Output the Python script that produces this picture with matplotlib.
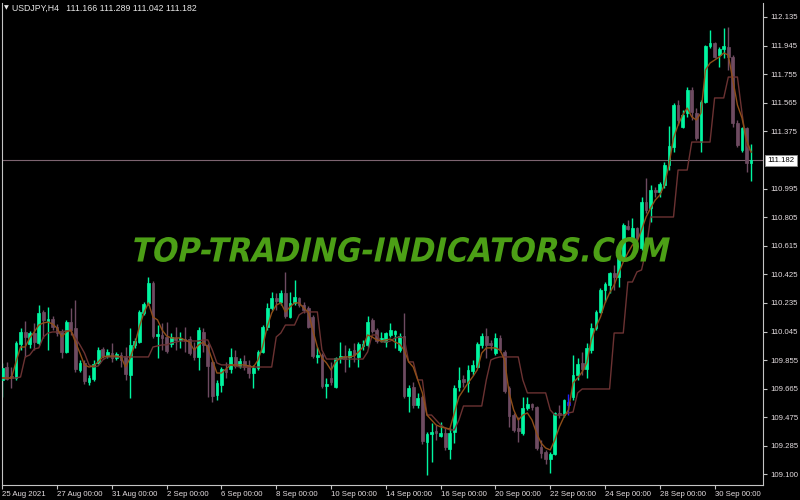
import matplotlib
matplotlib.use("Agg")
import matplotlib.pyplot as plt
import numpy as np
from matplotlib.textpath import TextPath
from matplotlib.patches import PathPatch
from matplotlib.font_manager import FontProperties
import matplotlib.transforms as mtransforms

plt.rcParams['font.family'] = ['Liberation Sans', 'DejaVu Sans']

symbol = "USDJPY,H4"
watermark = "TOP-TRADING-INDICATORS.COM"

opens = [
    109.723, 109.809, 109.750, 109.736, 109.962, 110.042, 109.962, 110.035, 109.969, 110.175,
    110.115, 110.128, 110.075, 110.049, 109.909, 110.108, 110.068, 109.789, 109.836, 109.710,
    109.730, 109.836, 109.929, 109.882, 109.902, 109.869, 109.889, 109.882, 109.756, 109.956,
    109.975, 110.168, 110.235, 110.368, 110.015, 110.022, 110.009, 109.962, 110.002, 109.989,
    109.995, 109.995, 109.936, 109.876, 110.042, 109.956, 109.843, 109.623, 109.690, 109.796,
    109.796, 109.876, 109.816, 109.849, 109.823, 109.769, 109.803, 109.909, 110.075, 110.201,
    110.268, 110.241, 110.301, 110.141, 110.235, 110.268, 110.221, 110.201, 110.141, 109.876,
    109.889, 109.683, 109.736, 109.676, 109.869, 109.882, 109.876, 109.922, 109.876, 109.949,
    109.956, 110.122, 110.055, 109.982, 109.975, 110.022, 110.029, 109.922, 110.015, 109.617,
    109.676, 109.557, 109.610, 109.311, 109.364, 109.384, 109.351, 109.371, 109.264, 109.377,
    109.676, 109.730, 109.703, 109.783, 109.809, 109.956, 110.015, 109.969, 109.902, 110.002,
    109.909, 109.670, 109.490, 109.404, 109.371, 109.537, 109.563, 109.544, 109.278, 109.244,
    109.198, 109.231, 109.504, 109.490, 109.557, 109.610, 109.756, 109.836, 109.796, 109.922,
    110.068, 110.175, 110.321, 110.354, 110.434, 110.407, 110.540, 110.746, 110.667, 110.733,
    110.600, 110.906, 110.866, 110.985, 110.972, 111.019, 111.152, 111.271, 111.550, 111.404,
    111.497, 111.650, 111.497, 111.304, 111.570, 111.942, 111.962, 111.882, 111.922, 111.936,
    111.869, 111.431, 111.251, 111.397, 111.166]

highs = [
    109.836, 109.843, 109.809, 109.982, 110.068, 110.115, 110.049, 110.102, 110.221, 110.188,
    110.208, 110.148, 110.095, 110.062, 110.122, 110.201, 110.254, 109.856, 109.856, 109.756,
    109.856, 109.942, 109.942, 109.929, 109.969, 109.909, 109.909, 109.942, 110.068, 110.002,
    110.188, 110.241, 110.407, 110.381, 110.088, 110.102, 110.108, 110.035, 110.075, 110.042,
    110.075, 110.015, 109.975, 110.075, 110.068, 109.969, 109.856, 109.723, 109.809, 109.843,
    109.936, 109.922, 109.869, 109.889, 109.856, 109.823, 109.922, 110.088, 110.235, 110.308,
    110.301, 110.321, 110.441, 110.308, 110.387, 110.274, 110.241, 110.215, 110.155, 109.942,
    109.902, 109.736, 109.843, 109.876, 109.975, 109.956, 109.936, 109.969, 109.975, 109.989,
    110.148, 110.135, 110.068, 110.042, 110.042, 110.102, 110.055, 110.035, 110.168, 109.690,
    109.710, 109.637, 109.623, 109.377, 109.437, 109.424, 109.444, 109.404, 109.404, 109.690,
    109.809, 109.756, 109.823, 109.856, 109.975, 110.035, 110.068, 109.989, 110.035, 110.022,
    109.922, 109.683, 109.504, 109.477, 109.610, 109.610, 109.570, 109.550, 109.324, 109.258,
    109.244, 109.510, 109.557, 109.597, 109.630, 109.889, 109.869, 109.909, 109.969, 110.102,
    110.188, 110.334, 110.374, 110.441, 110.487, 110.573, 110.766, 110.786, 110.799, 110.740,
    110.939, 111.065, 111.019, 111.005, 111.039, 111.172, 111.411, 111.564, 111.584, 111.517,
    111.670, 111.670, 111.530, 111.584, 111.949, 112.049, 111.969, 111.936, 112.062, 112.069,
    111.882, 111.451, 111.404, 111.404, 111.289]

lows = [
    109.610, 109.723, 109.670, 109.723, 109.922, 109.876, 109.936, 109.922, 109.956, 110.002,
    109.922, 110.055, 110.015, 109.869, 109.902, 110.022, 109.776, 109.776, 109.696, 109.690,
    109.716, 109.829, 109.869, 109.869, 109.843, 109.856, 109.809, 109.723, 109.603, 109.936,
    109.969, 110.155, 110.221, 110.002, 109.869, 109.922, 109.902, 109.942, 109.922, 109.936,
    109.909, 109.889, 109.856, 109.789, 109.909, 109.610, 109.577, 109.590, 109.643, 109.736,
    109.769, 109.803, 109.803, 109.789, 109.736, 109.670, 109.789, 109.902, 110.055, 110.188,
    110.188, 110.221, 110.135, 110.135, 110.221, 110.208, 110.168, 110.068, 109.869, 109.836,
    109.670, 109.603, 109.690, 109.670, 109.836, 109.776, 109.809, 109.843, 109.809, 109.922,
    109.942, 110.035, 109.969, 109.975, 109.942, 110.009, 109.936, 109.909, 109.603, 109.510,
    109.537, 109.537, 109.298, 109.092, 109.178, 109.324, 109.344, 109.258, 109.198, 109.304,
    109.650, 109.676, 109.643, 109.756, 109.803, 109.936, 109.869, 109.922, 109.889, 109.909,
    109.637, 109.411, 109.377, 109.311, 109.357, 109.524, 109.524, 109.258, 109.205, 109.165,
    109.105, 109.225, 109.470, 109.477, 109.490, 109.590, 109.723, 109.756, 109.736, 109.902,
    110.055, 110.168, 110.241, 110.301, 110.321, 110.341, 110.534, 110.720, 110.653, 110.653,
    110.587, 110.833, 110.773, 110.939, 110.939, 110.999, 111.118, 111.238, 111.417, 111.397,
    111.471, 111.451, 111.318, 111.238, 111.564, 111.929, 111.863, 111.803, 111.863, 111.783,
    111.404, 111.271, 111.238, 111.105, 111.042]

closes = [
    109.803, 109.730, 109.736, 109.969, 110.042, 110.009, 110.035, 109.975, 110.168, 110.122,
    110.128, 110.075, 110.035, 109.909, 110.108, 110.055, 109.796, 109.836, 109.716, 109.736,
    109.829, 109.922, 109.882, 109.909, 109.869, 109.896, 109.856, 109.763, 109.956, 109.982,
    110.175, 110.228, 110.368, 110.015, 110.029, 110.002, 109.916, 110.009, 109.989, 110.002,
    109.982, 109.902, 109.876, 110.055, 109.956, 109.816, 109.617, 109.703, 109.796, 109.776,
    109.876, 109.816, 109.849, 109.809, 109.769, 109.803, 109.909, 110.075, 110.201, 110.268,
    110.248, 110.301, 110.148, 110.235, 110.274, 110.221, 110.188, 110.075, 109.882, 109.889,
    109.683, 109.696, 109.710, 109.869, 109.882, 109.862, 109.916, 109.889, 109.962, 109.962,
    110.108, 110.049, 109.982, 110.002, 110.035, 110.055, 110.049, 110.015, 109.617, 109.670,
    109.557, 109.603, 109.318, 109.364, 109.377, 109.371, 109.371, 109.278, 109.371, 109.670,
    109.723, 109.710, 109.789, 109.823, 109.962, 110.015, 109.956, 109.956, 110.002, 109.922,
    109.650, 109.484, 109.391, 109.384, 109.537, 109.563, 109.544, 109.271, 109.238, 109.198,
    109.231, 109.504, 109.490, 109.590, 109.577, 109.756, 109.829, 109.796, 109.936, 110.068,
    110.175, 110.321, 110.361, 110.434, 110.407, 110.540, 110.753, 110.726, 110.733, 110.667,
    110.906, 110.853, 110.985, 110.972, 111.025, 111.152, 111.278, 111.550, 111.451, 111.484,
    111.650, 111.504, 111.331, 111.570, 111.942, 111.962, 111.869, 111.922, 111.942, 111.869,
    111.431, 111.284, 111.397, 111.165, 111.182]

fast_line = [
    109.736, 109.736, 109.736, 109.843, 109.942, 109.942, 110.002, 110.042, 110.088, 110.102,
    110.108, 110.095, 110.068, 110.009, 110.042, 110.055, 109.975, 109.902, 109.823, 109.809,
    109.816, 109.843, 109.876, 109.882, 109.882, 109.882, 109.876, 109.809, 109.869, 109.956,
    110.075, 110.168, 110.235, 110.141, 110.122, 110.055, 110.015, 110.002, 110.002, 110.002,
    109.989, 109.975, 109.922, 109.956, 109.975, 109.942, 109.856, 109.769, 109.769, 109.796,
    109.823, 109.823, 109.823, 109.823, 109.816, 109.809, 109.856, 109.942, 110.075, 110.168,
    110.221, 110.235, 110.175, 110.208, 110.235, 110.235, 110.201, 110.175, 110.055, 109.942,
    109.869, 109.836, 109.789, 109.843, 109.869, 109.876, 109.876, 109.882, 109.909, 109.942,
    110.022, 110.009, 109.989, 109.982, 109.989, 109.995, 109.975, 109.962, 109.922, 109.843,
    109.809, 109.723, 109.637, 109.490, 109.457, 109.424, 109.411, 109.404, 109.397, 109.504,
    109.610, 109.656, 109.703, 109.743, 109.789, 109.902, 109.936, 109.936, 109.936, 109.922,
    109.856, 109.637, 109.524, 109.457, 109.490, 109.504, 109.457, 109.371, 109.304, 109.271,
    109.258, 109.324, 109.411, 109.477, 109.524, 109.703, 109.736, 109.776, 109.836, 109.989,
    110.075, 110.141, 110.235, 110.301, 110.354, 110.434, 110.507, 110.567, 110.620, 110.640,
    110.720, 110.806, 110.866, 110.919, 110.952, 111.019, 111.152, 111.331, 111.417, 111.484,
    111.530, 111.471, 111.451, 111.497, 111.783, 111.829, 111.849, 111.869, 111.896, 111.882,
    111.716, 111.550, 111.464, 111.318, 111.238]

slow_line = [
    109.736, 109.736, 109.736, 109.736, 109.743, 109.876, 109.889, 109.929, 109.936, 110.009,
    110.035, 110.042, 110.042, 110.042, 110.049, 110.049, 110.002, 109.956, 109.902, 109.823,
    109.809, 109.816, 109.856, 109.876, 109.876, 109.876, 109.876, 109.876, 109.876, 109.876,
    109.876, 109.876, 109.876, 109.942, 109.949, 109.956, 109.956, 109.969, 109.975, 109.982,
    109.982, 109.982, 109.982, 109.982, 109.989, 109.989, 109.922, 109.836, 109.823, 109.823,
    109.823, 109.816, 109.809, 109.809, 109.809, 109.809, 109.809, 109.809, 109.809, 109.809,
    110.009, 110.035, 110.088, 110.088, 110.088, 110.155, 110.175, 110.175, 110.175, 110.175,
    109.922, 109.862, 109.862, 109.862, 109.862, 109.862, 109.862, 109.862, 109.862, 109.862,
    109.909, 110.022, 110.022, 109.975, 109.975, 109.982, 110.002, 110.009, 110.002, 109.843,
    109.843, 109.723, 109.723, 109.490, 109.490, 109.457, 109.424, 109.404, 109.391, 109.391,
    109.457, 109.550, 109.550, 109.550, 109.550, 109.550, 109.723, 109.856, 109.869, 109.876,
    109.876, 109.876, 109.876, 109.876, 109.723, 109.637, 109.637, 109.637, 109.637, 109.637,
    109.524, 109.490, 109.490, 109.490, 109.504, 109.510, 109.637, 109.663, 109.663, 109.663,
    109.663, 109.663, 109.663, 109.663, 110.035, 110.035, 110.035, 110.374, 110.374, 110.441,
    110.454, 110.587, 110.806, 110.806, 110.806, 110.806, 110.806, 110.806, 111.118, 111.118,
    111.118, 111.304, 111.304, 111.304, 111.304, 111.304, 111.597, 111.597, 111.597, 111.736,
    111.736, 111.736, 111.497, 111.284, 111.238]

blue_bars = [124]

xtick_labels = ["25 Aug 2021", "27 Aug 00:00", "31 Aug 00:00", "2 Sep 00:00", "6 Sep 00:00",
                "8 Sep 00:00", "10 Sep 00:00", "14 Sep 00:00", "16 Sep 00:00", "20 Sep 00:00",
                "22 Sep 00:00", "24 Sep 00:00", "28 Sep 00:00", "30 Sep 00:00"]
bars_per_label = 12

ytick_values = [112.135, 111.945, 111.755, 111.565, 111.375, 110.995, 110.805, 110.615,
                110.425, 110.235, 110.045, 109.855, 109.665, 109.475, 109.285, 109.095]
ytick_labels = ["112.135", "111.945", "111.755", "111.565", "111.375", "110.995", "110.805",
                "110.615", "110.425", "110.235", "110.045", "109.855", "109.665", "109.475",
                "109.285", "109.100"]

# ---------------------------------------------------------------
W, H = 800, 500
fig = plt.figure(figsize=(8, 5), dpi=100, facecolor="black")
ax = fig.add_axes([2 / W, 15 / H, 761 / W, 482 / H])
ax.set_facecolor("black")

o = np.array(opens); h = np.array(highs); l = np.array(lows); c = np.array(closes)
x = np.arange(len(o))

bull, bear, blue = "#00f5a0", "#6e4b61", "#2020ff"
cols = np.where(c >= o, bull, bear).astype(object)
for b in blue_bars:
    cols[b] = blue

ax.set_xlim(-0.066, 166.6)
ax.set_ylim(109.025, 112.228)

ax.axhline(c[-1], color="#7d6470", lw=0.8, zorder=1)

ax.vlines(x, l, h, colors=list(cols), lw=1.0, zorder=2)
bottoms = np.minimum(o, c)
heights = np.maximum(np.abs(c - o), 0.004)
ax.bar(x, heights, bottom=bottoms, width=0.6, color=list(cols), edgecolor=list(cols),
       linewidth=0.5, zorder=3)

ax.plot(x, slow_line, color="#6b3232", lw=1.0, zorder=4)
ax.plot(x, fast_line, color="#8f4e18", lw=1.0, zorder=4)

# axes frame
for s in ["left", "right", "bottom"]:
    ax.spines[s].set_color("#c4c4c4")
    ax.spines[s].set_linewidth(0.8)
ax.spines["top"].set_visible(False)

ax.set_xticks(np.arange(len(xtick_labels)) * bars_per_label)
ax.set_xticklabels(xtick_labels)
for t in ax.get_xticklabels():
    t.set_ha("left")
ax.tick_params(axis="x", direction="out", length=3, width=0.8, color="#c4c4c4",
               labelcolor="#e4dde0", labelsize=5.6, pad=1.5)

ax.yaxis.tick_right()
ax.set_yticks(ytick_values)
ax.set_yticklabels(ytick_labels)
ax.tick_params(axis="y", direction="out", length=3, width=0.8, color="#c4c4c4",
               labelcolor="#e4dde0", labelsize=5.6, pad=2)

ax.annotate(f"{c[-1]:.3f}", xy=(1.0, c[-1]), xycoords=("axes fraction", "data"),
            xytext=(3, 0), textcoords="offset points", ha="left", va="center",
            fontsize=5.6, color="black", annotation_clip=False,
            bbox=dict(boxstyle="square,pad=0.3", fc="white", ec="#909090", lw=0.6))

# header
fig.text(4 / W, 1 - 8 / H, "\u25bc", fontsize=4.5, color="#e8e8e8", va="center",
         family=["DejaVu Sans"])
fig.text(12 / W, 1 - 8 / H,
         f"{symbol}   {o[-1]:.3f} {h[-1]:.3f} {l[-1]:.3f} {c[-1]:.3f}",
         fontsize=6.3, color="#e8e8e8", va="center")

# watermark
tp = TextPath((0, 0), watermark, size=100,
              prop=FontProperties(family="DejaVu Sans", weight="bold"))
bb = tp.get_extents()
x0, x1 = 130, 670
ybot, ytop = H - 262, H - 237
skew = 12
shift = (ytop - ybot) * np.tan(np.radians(skew))
sx = (x1 - x0 - shift) / bb.width
sy = (ytop - ybot) / bb.height
tr = (mtransforms.Affine2D().translate(-bb.x0, -bb.y0).scale(sx, sy)
      .skew_deg(skew, 0).translate(x0, ybot))
fig.add_artist(PathPatch(tp, transform=tr, facecolor="#4c9f16", edgecolor="none", zorder=10))

fig.savefig("out.png", dpi=100, facecolor="black")
